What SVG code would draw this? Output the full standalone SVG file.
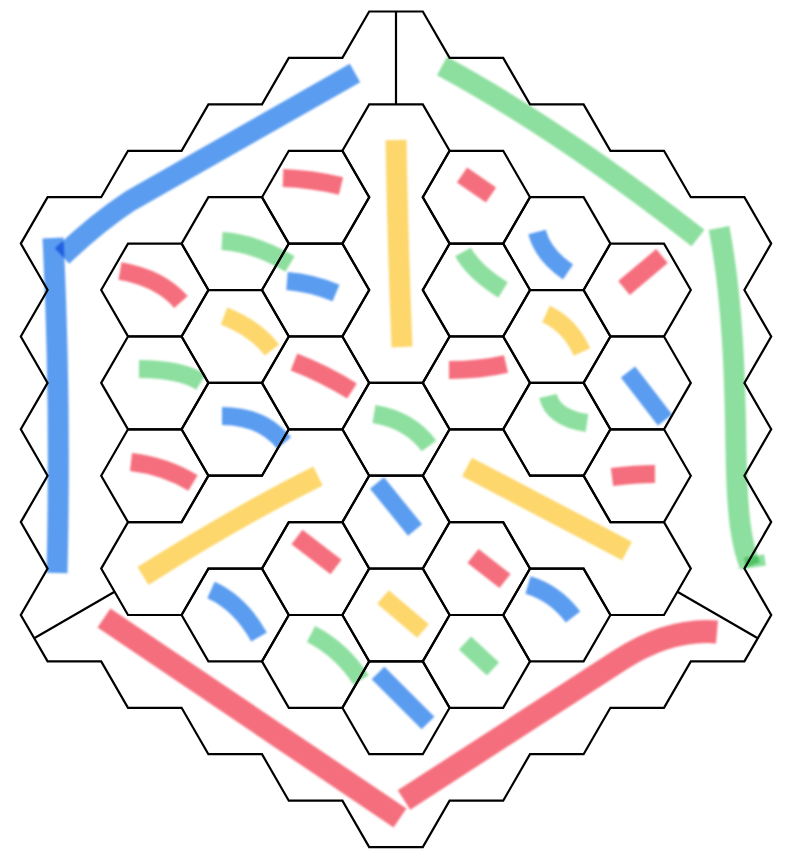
<svg xmlns="http://www.w3.org/2000/svg" xmlns:xlink="http://www.w3.org/1999/xlink" width="787" height="868" viewBox="0 0 787 868">
<style>
.ln{fill:none;stroke:#000;stroke-width:2.2;stroke-linejoin:miter}
.mk{fill:none;stroke-linecap:butt;stroke-linejoin:round;stroke-width:18;mix-blend-mode:multiply;filter:url(#soft)}
.w{stroke-width:21}
.b{stroke:#5a9cf0}
.g{stroke:#8ddf9f}
.r{stroke:#f56e7d}
.y{stroke:#fdd76c}
</style>
<defs>
<filter id="soft" filterUnits="userSpaceOnUse" x="0" y="0" width="787" height="868"><feGaussianBlur stdDeviation="0.8"/></filter>
<polygon id="hx" points="-53.6,0 -26.8,-46.42 26.8,-46.42 53.6,0 26.8,46.42 -26.8,46.42"/>
</defs>
<rect width="787" height="868" fill="#fff"/>

<g id="outer-ring">
<polygon class="ln" points="369.2,11.5 422.8,11.5 449.6,57.9 503.2,57.9 530,104.4 583.6,104.4 610.4,150.8 664,150.8 690.8,197.2 744.4,197.2 771.2,243.6 744.4,290 771.2,336.5 744.4,382.9 771.2,429.3 744.4,475.7 771.2,522.1 744.4,568.6 771.2,615 744.4,661.4 690.8,661.4 664,707.8 610.4,707.8 583.6,754.2 530,754.2 503.2,800.7 449.6,800.7 422.8,847.1 369.2,847.1 342.4,800.7 288.8,800.7 262,754.2 208.4,754.2 181.6,707.8 128,707.8 101.2,661.4 47.6,661.4 20.8,615 47.6,568.6 20.8,522.1 47.6,475.7 20.8,429.3 47.6,382.9 20.8,336.5 47.6,290 20.8,243.6 47.6,197.2 101.2,197.2 128,150.8 181.6,150.8 208.4,104.4 262,104.4 288.8,57.9 342.4,57.9"/>
<line class="ln" x1="396" y1="11.5" x2="396" y2="104.4"/>
<line class="ln" x1="34.2" y1="638.2" x2="114.6" y2="591.8"/>
<line class="ln" x1="757.8" y1="638.2" x2="677.4" y2="591.8"/>
<path class="mk w b" d="M355,73 L130,201 Q98,222 62,256"/>
<path class="mk w b" d="M53,238 Q61,400 57,573"/>
<path class="mk w g" d="M442,66 Q560,130 698,238"/>
<path class="mk w g" d="M719,228 C733,300 735,380 736,450 C737,520 742,545 750,566"/>
<path class="mk g" style="stroke-width:11" d="M745,563 L765,560"/>
<path class="mk r" style="stroke-width:23" d="M104,618 L400,818"/>
<path class="mk r" style="stroke-width:23" d="M404,800 L620,660 Q670,628 717,632"/>
</g>

<g id="corridor-top">
<polygon class="ln" points="369.2,382.9 422.8,382.9 449.6,336.5 422.8,290 449.6,243.6 422.8,197.2 449.6,150.8 422.8,104.4 369.2,104.4 342.4,150.8 369.2,197.2 342.4,243.6 369.2,290 342.4,336.5"/>
<path class="mk w y" d="M396,140 Q398,250 402,347"/>
</g>
<g id="corridor-left">
<polygon class="ln" points="288.8,429.3 342.4,429.3 369.2,475.7 342.4,522.1 288.8,522.1 262,568.6 208.4,568.6 181.6,615 128,615 101.2,568.6 128,522.1 181.6,522.1 208.4,475.7 262,475.7"/>
<path class="mk w y" d="M318,476 Q238,516 143,576"/>
</g>
<g id="corridor-right">
<polygon class="ln" points="503.2,429.3 449.6,429.3 422.8,475.7 449.6,522.1 503.2,522.1 530,568.6 583.6,568.6 610.4,615 664,615 690.8,568.6 664,522.1 610.4,522.1 583.6,475.7 530,475.7"/>
<path class="mk w y" d="M467,467 L627,551"/>
</g>

<g id="cell-m1-m5"><use class="ln" href="#hx" x="315.6" y="197.2"/><path class="mk r" d="M283,178 Q312,179 341,186"/></g>
<g id="cell-p1-m5"><use class="ln" href="#hx" x="476.4" y="197.2"/><path class="mk r" d="M462,175 L491,195"/></g>
<g id="cell-m2-m4"><use class="ln" href="#hx" x="235.2" y="243.6"/><path class="mk g" d="M222,241 Q255,243 290,264"/></g>
<g id="cell-p2-m4"><use class="ln" href="#hx" x="556.8" y="243.6"/><path class="mk b" d="M537,232 Q543,255 568,272"/></g>
<g id="cell-m1-m3"><use class="ln" href="#hx" x="315.6" y="290"/><path class="mk b" d="M287,281 Q312,283 336,293"/></g>
<g id="cell-p1-m3"><use class="ln" href="#hx" x="476.4" y="290"/><path class="mk g" d="M463,252 Q474,272 503,290"/></g>
<g id="cell-m3-m3"><use class="ln" href="#hx" x="154.8" y="290"/><path class="mk r" d="M120,271 Q160,278 181,302"/></g>
<g id="cell-p3-m3"><use class="ln" href="#hx" x="637.2" y="290"/><path class="mk r" d="M624,288 L662,256"/></g>
<g id="cell-m2-m2"><use class="ln" href="#hx" x="235.2" y="336.5"/><path class="mk y" d="M224,316 Q255,328 272,350"/></g>
<g id="cell-p2-m2"><use class="ln" href="#hx" x="556.8" y="336.5"/><path class="mk y" d="M546,314 Q570,325 582,352"/></g>
<g id="cell-m1-m1"><use class="ln" href="#hx" x="315.6" y="382.9"/><path class="mk r" d="M294,362 Q325,374 352,391"/></g>
<g id="cell-p1-m1"><use class="ln" href="#hx" x="476.4" y="382.9"/><path class="mk r" d="M449,370 Q480,370 506,364"/></g>
<g id="cell-m3-m1"><use class="ln" href="#hx" x="154.8" y="382.9"/><path class="mk g" d="M139,369 Q180,369 201,382"/></g>
<g id="cell-p3-m1"><use class="ln" href="#hx" x="637.2" y="382.9"/><path class="mk b" d="M628,372 L665,420"/></g>
<g id="cell-0-0"><use class="ln" href="#hx" x="396" y="429.3"/><path class="mk g" d="M374,414 Q410,420 429,446"/></g>
<g id="cell-m2-0"><use class="ln" href="#hx" x="235.2" y="429.3"/><path class="mk b" d="M222,416 Q262,416 284,443"/></g>
<g id="cell-p2-0"><use class="ln" href="#hx" x="556.8" y="429.3"/><path class="mk g" d="M548,396 Q553,418 587,423"/></g>
<g id="cell-m3-p1"><use class="ln" href="#hx" x="154.8" y="475.7"/><path class="mk r" d="M131,462 Q165,466 193,483"/></g>
<g id="cell-p3-p1"><use class="ln" href="#hx" x="637.2" y="475.7"/><path class="mk r" d="M612,477 Q635,474 655,474"/></g>
<g id="cell-0-p2"><use class="ln" href="#hx" x="396" y="522.1"/><path class="mk b" d="M377,483 L415,530"/></g>
<g id="cell-m1-p3"><use class="ln" href="#hx" x="315.6" y="568.6"/><path class="mk r" d="M297,537 L336,567"/></g>
<g id="cell-p1-p3"><use class="ln" href="#hx" x="476.4" y="568.6"/><path class="mk r" d="M473,556 L505,581"/></g>
<g id="cell-m2-p4"><use class="ln" href="#hx" x="235.2" y="615"/><path class="mk b" d="M211,590 Q240,603 259,637"/></g>
<g id="cell-p2-p4"><use class="ln" href="#hx" x="556.8" y="615"/><path class="mk b" d="M528,585 Q555,593 573,617"/></g>
<g id="cell-0-p4"><use class="ln" href="#hx" x="396" y="615"/><path class="mk y" d="M383,597 L423,631"/></g>
<g id="cell-m1-p5"><use class="ln" href="#hx" x="315.6" y="661.4"/><path class="mk g" d="M311,634 Q342,650 361,680"/></g>
<g id="cell-p1-p5"><use class="ln" href="#hx" x="476.4" y="661.4"/><path class="mk g" d="M465,643 L493,669"/></g>
<g id="cell-0-p6"><use class="ln" href="#hx" x="396" y="707.8"/><path class="mk b" d="M378,673 L428,723"/></g>
</svg>
